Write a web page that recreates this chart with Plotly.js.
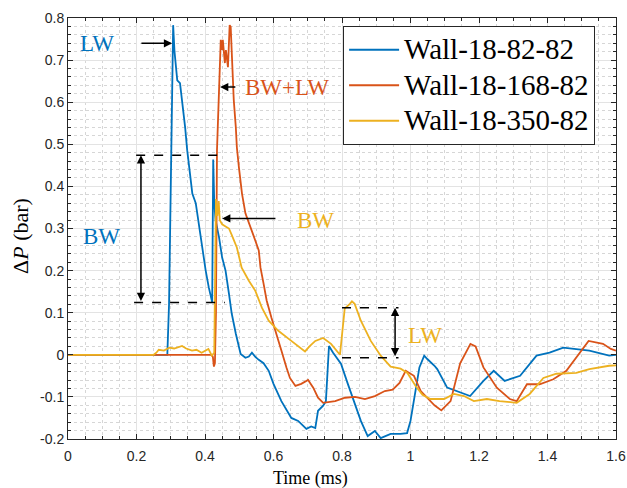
<!DOCTYPE html>
<html>
<head>
<meta charset="utf-8">
<script src="https://cdn.plot.ly/plotly-3.0.1.min.js"></script>
<style>html,body{margin:0;padding:0;background:#fff;}#chart{width:627px;height:488px;}</style>
</head>
<body>
<div id="chart"></div>
<script>
// Wall-18-82-82 (blue)
const tBlue = [0, 0.29, 0.295, 0.300, 0.304, 0.307, 0.311, 0.316, 0.319, 0.327, 0.333, 0.342, 0.348, 0.357, 0.363, 0.373, 0.383, 0.392, 0.402, 0.411, 0.419, 0.421, 0.424, 0.427, 0.431, 0.441, 0.45, 0.46, 0.47, 0.478, 0.49, 0.504, 0.518, 0.528, 0.537, 0.547, 0.557, 0.571, 0.586, 0.60, 0.623, 0.652, 0.672, 0.696, 0.710, 0.722, 0.73, 0.745, 0.753, 0.758, 0.762, 0.774, 0.797, 0.817, 0.838, 0.855, 0.875, 0.896, 0.913, 0.942, 0.971, 0.99, 1.0, 1.015, 1.026, 1.04, 1.049, 1.07, 1.078, 1.107, 1.136, 1.174, 1.213, 1.243, 1.275, 1.32, 1.368, 1.406, 1.446, 1.484, 1.522, 1.58, 1.6];
const pBlue = [0, 0, 0.12, 0.45, 0.72, 0.783, 0.72, 0.676, 0.652, 0.645, 0.605, 0.54, 0.486, 0.421, 0.383, 0.36, 0.302, 0.255, 0.2, 0.16, 0.129, 0.125, 0.464, 0.36, 0.319, 0.279, 0.231, 0.2, 0.145, 0.098, 0.05, 0.002, -0.007, -0.004, 0.005, -0.005, -0.012, -0.02, -0.038, -0.069, -0.11, -0.15, -0.157, -0.176, -0.17, -0.174, -0.133, -0.121, -0.11, -0.05, 0.021, 0.005, -0.021, -0.069, -0.117, -0.157, -0.193, -0.181, -0.198, -0.188, -0.188, -0.186, -0.157, -0.086, -0.03, -0.002, -0.01, -0.026, -0.034, -0.078, -0.086, -0.098, -0.062, -0.038, -0.062, -0.05, -0.002, 0.005, 0.017, 0.014, 0.01, -0.002, 0.0];

// Wall-18-168-82 (red)
const tRed = [0, 0.42, 0.423, 0.426, 0.429, 0.432, 0.435, 0.443, 0.446, 0.45, 0.452, 0.458, 0.461, 0.467, 0.47, 0.472, 0.475, 0.478, 0.48, 0.484, 0.49, 0.493, 0.499, 0.503, 0.508, 0.518, 0.528, 0.537, 0.547, 0.557, 0.562, 0.571, 0.58, 0.594, 0.609, 0.623, 0.638, 0.648, 0.664, 0.681, 0.701, 0.716, 0.73, 0.745, 0.78, 0.809, 0.838, 0.867, 0.896, 0.925, 0.948, 0.968, 0.986, 1.01, 1.03, 1.07, 1.09, 1.117, 1.145, 1.175, 1.19, 1.213, 1.252, 1.29, 1.31, 1.34, 1.377, 1.417, 1.455, 1.484, 1.52, 1.562, 1.585, 1.6];
const pRed = [0, 0, -0.005, -0.028, -0.02, 0.1, 0.486, 0.645, 0.748, 0.724, 0.748, 0.693, 0.724, 0.683, 0.74, 0.783, 0.779, 0.724, 0.66, 0.605, 0.54, 0.493, 0.445, 0.414, 0.383, 0.336, 0.312, 0.295, 0.271, 0.248, 0.207, 0.169, 0.129, 0.088, 0.05, 0.01, -0.031, -0.055, -0.074, -0.069, -0.06, -0.078, -0.102, -0.114, -0.11, -0.102, -0.1, -0.105, -0.098, -0.086, -0.083, -0.067, -0.038, -0.05, -0.086, -0.12, -0.132, -0.11, -0.02, 0.026, 0.02, -0.03, -0.078, -0.105, -0.11, -0.07, -0.07, -0.058, -0.038, -0.007, 0.033, 0.026, 0.014, 0.01];

// Wall-18-350-82 (yellow)
const tYel = [0, 0.25, 0.258, 0.265, 0.28, 0.296, 0.31, 0.333, 0.345, 0.362, 0.375, 0.39, 0.41, 0.42, 0.427, 0.43, 0.432, 0.436, 0.44, 0.443, 0.45, 0.46, 0.47, 0.478, 0.493, 0.507, 0.528, 0.547, 0.566, 0.586, 0.614, 0.652, 0.692, 0.705, 0.722, 0.745, 0.768, 0.794, 0.808, 0.823, 0.829, 0.837, 0.855, 0.884, 0.913, 0.942, 0.971, 0.991, 1.015, 1.035, 1.058, 1.098, 1.127, 1.156, 1.185, 1.223, 1.26, 1.31, 1.348, 1.388, 1.426, 1.484, 1.522, 1.58, 1.6];
const pYel = [0, 0, 0.005, 0.012, 0.01, 0.017, 0.015, 0.021, 0.015, 0.01, 0.012, 0.005, 0.014, -0.002, 0.005, 0.3, 0.37, 0.33, 0.365, 0.32, 0.31, 0.305, 0.30, 0.285, 0.255, 0.207, 0.176, 0.152, 0.112, 0.081, 0.057, 0.033, 0.008, 0.02, 0.033, 0.04, 0.026, 0.0, 0.11, 0.121, 0.127, 0.121, 0.081, 0.033, -0.002, -0.028, -0.033, -0.043, -0.074, -0.095, -0.105, -0.105, -0.093, -0.098, -0.11, -0.105, -0.11, -0.114, -0.093, -0.055, -0.045, -0.043, -0.034, -0.026, -0.025];

const seriesNames = ['Wall-18-82-82', 'Wall-18-168-82', 'Wall-18-350-82'];
const yTickVals = [-0.2, -0.1, 0, 0.1, 0.2, 0.3, 0.4, 0.5, 0.6, 0.7, 0.8];
const yTickText = ['-0.2', '-0.1', '0', '0.1', '0.2', '0.3', '0.4', '0.5', '0.6', '0.7', '0.8'];
const xTickVals = [0, 0.2, 0.4, 0.6, 0.8, 1, 1.2, 1.4, 1.6];
const xTickText = ['0', '0.2', '0.4', '0.6', '0.8', '1', '1.2', '1.4', '1.6'];

const C_BLUE = '#0072BD', C_RED = '#D95319', C_YEL = '#EDB120';
const SERIF = 'Liberation Serif, Times New Roman, serif';
const SANS = 'Liberation Sans, Arial, sans-serif';

function legendName(s) { return '<span style="font-size:29px">' + s + '</span>'; }

const traces = [
  {x: tBlue, y: pBlue, name: legendName(seriesNames[0]), mode: 'lines', line: {color: C_BLUE, width: 1.8}},
  {x: tRed, y: pRed, name: legendName(seriesNames[1]), mode: 'lines', line: {color: C_RED, width: 1.8}},
  {x: tYel, y: pYel, name: legendName(seriesNames[2]), mode: 'lines', line: {color: C_YEL, width: 1.8}}
];

const axisCommon = {
  showline: true, mirror: 'ticks', linecolor: '#262626', linewidth: 1,
  ticks: 'inside', ticklen: 5, tickcolor: '#262626', tickwidth: 1,
  showgrid: true, gridcolor: '#e3e3e3', gridwidth: 1, zeroline: false,
  ticklabeloverflow: 'allow',
  tickfont: {family: SANS, size: 14, color: '#262626'}
};

function arrow(x, y, ax, ay, both) {
  return {x: x, y: y, ax: ax, ay: ay, xref: 'x', yref: 'y', axref: 'x', ayref: 'y',
    text: '', showarrow: true, arrowhead: 2, arrowsize: 1.1, arrowwidth: 1.5, arrowcolor: '#000',
    arrowside: both ? 'end+start' : 'end', startarrowhead: 2, startarrowsize: 1.1, standoff: 0, startstandoff: 0};
}
function label(x, y, txt, color, anchor) {
  return {x: x, y: y, xref: 'x', yref: 'y', text: txt, showarrow: false, xanchor: anchor || 'center',
    font: {family: SERIF, size: 23, color: color}};
}

const layout = {
  width: 627, height: 488,
  margin: {l: 68, r: 11, t: 18, b: 49},
  paper_bgcolor: '#fff', plot_bgcolor: '#fff',
  font: {family: SERIF, color: '#000'},
  showlegend: true,
  legend: {x: 0.502, y: 0.981, xanchor: 'left', yanchor: 'top',
    font: {family: SERIF, size: 25, color: '#000'},
    bgcolor: '#fff', bordercolor: '#262626', borderwidth: 1, itemwidth: 50},
  xaxis: Object.assign({}, axisCommon, {
    range: [0, 1.6], tickvals: xTickVals, ticktext: xTickText, ticklabelstandoff: 4,
    minor: {dtick: 0.05, ticks: 'inside', ticklen: 3, tickcolor: '#262626', showgrid: true, gridcolor: '#d6d6d6', griddash: 'dot', gridwidth: 1}
  }),
  yaxis: Object.assign({}, axisCommon, {
    range: [-0.2, 0.8], tickvals: yTickVals, ticktext: yTickText,
    minor: {dtick: 0.02, ticks: 'inside', ticklen: 3, tickcolor: '#262626', showgrid: true, gridcolor: '#d6d6d6', griddash: 'dot', gridwidth: 1}
  }),
  shapes: [
    {type: 'line', xref: 'x', yref: 'y', x0: 0.199, x1: 0.461, y0: 0.474, y1: 0.474, line: {color: '#000', width: 1.5, dash: 'dash'}},
    {type: 'line', xref: 'x', yref: 'y', x0: 0.193, x1: 0.458, y0: 0.124, y1: 0.124, line: {color: '#000', width: 1.5, dash: 'dash'}},
    {type: 'line', xref: 'x', yref: 'y', x0: 0.80, x1: 0.965, y0: 0.112, y1: 0.112, line: {color: '#000', width: 1.5, dash: 'dash'}},
    {type: 'line', xref: 'x', yref: 'y', x0: 0.80, x1: 0.965, y0: -0.007, y1: -0.007, line: {color: '#000', width: 1.5, dash: 'dash'}}
  ],
  annotations: [
    label(0.085, 0.74, 'LW', C_BLUE),
    arrow(0.304, 0.74, 0.21, 0.74),
    label(0.511, 0.636, 'BW+LW', C_RED, 'left'),
    arrow(0.444, 0.636, 0.493, 0.636),
    label(0.099, 0.281, 'BW', C_BLUE),
    arrow(0.45, 0.324, 0.61, 0.324),
    label(0.724, 0.318, 'BW', C_YEL),
    arrow(0.213, 0.474, 0.213, 0.124, true),
    arrow(0.955, 0.112, 0.955, -0.007, true),
    label(1.042, 0.045, 'LW', C_YEL),
    {xref: 'paper', yref: 'paper', x: 0.443, y: -0.093, xanchor: 'center', yanchor: 'middle', showarrow: false,
      text: 'Time (ms)', font: {family: SERIF, size: 18, color: '#000'}},
    {xref: 'paper', yref: 'paper', x: -0.087, y: 0.483, xanchor: 'center', yanchor: 'middle', showarrow: false, textangle: -90,
      text: 'Δ<i>P</i> (bar)', font: {family: SERIF, size: 22, color: '#000'}}
  ]
};

Plotly.newPlot('chart', traces, layout, {displayModeBar: false, staticPlot: true});
</script>
</body>
</html>
